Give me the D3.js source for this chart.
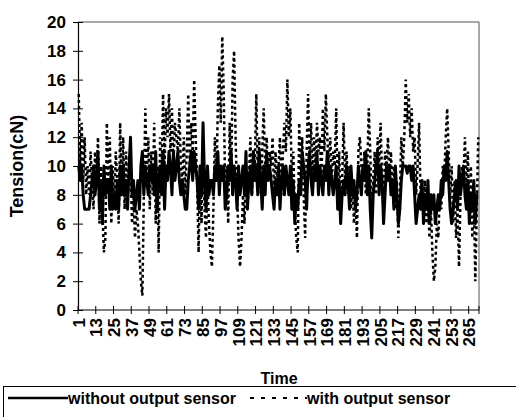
<!DOCTYPE html>
<html><head><meta charset="utf-8">
<script src="https://cdn.jsdelivr.net/npm/d3@7"></script>
<style>
html,body{margin:0;padding:0;background:#fff;}
svg text{font-family:"Liberation Sans",Arial,sans-serif;font-weight:bold;fill:#000;}
</style></head>
<body><svg id="c" width="516" height="417"></svg>
<script>
const seriesNames = ["without output sensor", "with output sensor"];
const withoutSensor = [
10,9,10,8,7,7,7,7,8,9,
10,8,9,11,7,9,6,10,8,9,
9,7,10,7,8,7,9,7,10,8,
10,8,9,7,10,12,8,9,7,8,
9,7,10,11,8,10,9,8,10,9,
10,8,11,7,9,10,8,11,7,10,
9,11,10,8,11,9,10,11,9,8,
9,8,7,7,9,10,11,9,11,10,
9,7,10,8,13,9,7,10,8,9,
9,8,10,9,11,8,10,9,10,7,
8,10,9,11,8,10,9,7,10,8,
9,10,8,11,7,9,10,8,11,9,
10,8,11,9,7,10,8,11,9,10,
9,8,7,9,8,10,7,9,10,8,
10,9,8,10,7,9,6,8,7,9,
8,11,10,9,7,10,11,9,8,10,
9,11,8,10,9,8,10,9,11,8,
10,9,8,9,10,7,9,6,8,9,
8,10,9,7,10,8,9,7,8,10,
9,8,10,9,11,8,10,7,5,8,
9,10,11,8,10,9,6,8,10,9,
10,8,9,7,10,8,6,7,9,10,
10,10,9.5,10,10,9,10,8,6,7,
8,7,9,6,8,7,9,6,8,7,
8,6,7,8,7,9,8,10,9,11,
9,7,6,7,8,9,7,10,8,9,
10,8,7,9,6,8,7,9,6,8,8
];
const withSensor = [
15,10,13,9,12,8,10,8,11,9,
7,11,9,12,6,10,7,4,5,13,
8,12,6,10,7,11,9,6,13,8,
12,7,11,8,9,10,6,8,5,7,
6,4,2,1,8,14,9,12,7,11,
8,13,6,10,4,12,9,15,10,14,
12,15,11,14,10,13,12,11,14,10,
9,12,8,11,15,10,13,11,16,12,
9,4,10,6,12,7,5,9,6,4,
3,7,12,9,14,17,13,19,15,8,
10,6,13,9,16,18,12,8,5,3,
5,8,6,10,7,9,12,8,11,10,
15,9,12,8,11,14,10,12,9,11,
10,12,8,11,9,10,12,8,11,13,
11,16,12,14,9,11,7,5,4,13,
9,12,8,5,11,15,10,13,9,12,
10,13,11,12,9,14,11,15,12,10,
12,9,11,10,14,8,11,7,9,13,
9,11,8,10,7,9,6,8,5,11,
12,10,9,11,8,10,14,11,7,9,
11,8,12,10,13,9,7,11,10,12,
9,11,8,10,7,9,5,8,12,10,
12,16,13,15,12,14,11,12,8,10,
13,8,9,7,9,6,8,5,7,4,
2,3,6,5,8,7,10,9,12,14,
11,8,10,6,9,5,7,3,8,10,
9,12,8,11,6,10,5,8,2,7,12
];
const categories = withoutSensor.map((d, i) => i + 1);
const xTickLabels = [1,13,25,37,49,61,73,85,97,109,121,133,145,157,169,181,193,205,217,229,241,253,265];
const yTicks = [0,2,4,6,8,10,12,14,16,18,20];
const axisTitles = {x: "Time", y: "Tension(cN)"};

const svg = d3.select("#c");
const L = 78, R = 479, T = 22, B = 310;
const x = d3.scaleBand().domain(categories).range([L, R]);
const y = d3.scaleLinear().domain([0, 20]).range([B, T]);
const cx = c => x(c) + x.bandwidth() / 2;

// plot area border (top/right)
svg.append("path").attr("d", `M${L},${T}H${R}V${B}`)
  .attr("fill", "none").attr("stroke", "#555").attr("stroke-width", 1);

// data lines
const line = d3.line().x((d, i) => cx(categories[i])).y(d => y(d));
svg.append("path").datum(withSensor).attr("d", line)
  .attr("fill", "none").attr("stroke", "#000").attr("stroke-width", 2.5)
  .attr("stroke-dasharray", "3,3");
svg.append("path").datum(withoutSensor).attr("d", line)
  .attr("fill", "none").attr("stroke", "#000").attr("stroke-width", 3)
  .attr("stroke-linejoin", "round");

// y axis
const yAxis = svg.append("g").attr("transform", `translate(${L},0)`)
  .call(d3.axisLeft(y).tickValues(yTicks).tickSizeInner(5).tickSizeOuter(0).tickPadding(7));
yAxis.select(".domain").attr("stroke", "#000").attr("stroke-width", 1.2);
yAxis.selectAll(".tick line").attr("x2", 5).attr("x1", -5).attr("stroke", "#000");
yAxis.selectAll(".tick text").attr("font-size", 17).style("font-family", "Liberation Sans, Arial").style("font-weight", "bold");

// x axis labels
const xAxis = svg.append("g").attr("transform", `translate(0,${B})`)
  .call(d3.axisBottom(x).tickValues(xTickLabels).tickSize(0).tickPadding(0));
xAxis.select(".domain").remove();
xAxis.selectAll(".tick text")
  .attr("font-size", 17).style("font-weight", "bold")
  .attr("transform", "translate(0,8) rotate(-90)")
  .attr("text-anchor", "end").attr("dy", "0.35em").attr("x", 0).attr("y", 0);
svg.append("line").attr("x1", L).attr("x2", R).attr("y1", B).attr("y2", B)
  .attr("stroke", "#000").attr("stroke-width", 1.2);
svg.append("g").selectAll("line").data(xTickLabels).join("line")
  .attr("x1", d => x(d)).attr("x2", d => x(d)).attr("y1", B - 4).attr("y2", B + 4)
  .attr("stroke", "#000");
svg.append("line").attr("x1", R).attr("x2", R).attr("y1", B - 4).attr("y2", B + 4).attr("stroke", "#000");

// titles
svg.append("text").attr("x", 279).attr("y", 384).attr("text-anchor", "middle")
  .attr("font-size", 16).text(axisTitles.x);
svg.append("text").attr("transform", "translate(23,166) rotate(-90)").attr("text-anchor", "middle")
  .attr("font-size", 18).text(axisTitles.y);

// legend
svg.append("rect").attr("x", 3.5).attr("y", 386.5).attr("width", 530).attr("height", 50)
  .attr("fill", "none").attr("stroke", "#000").attr("stroke-width", 1);
svg.append("line").attr("x1", 8).attr("x2", 68).attr("y1", 398).attr("y2", 398)
  .attr("stroke", "#000").attr("stroke-width", 2.5);
svg.append("text").attr("x", 68).attr("y", 403.5).attr("font-size", 16).text(seriesNames[0]);
svg.append("line").attr("x1", 250).attr("x2", 307).attr("y1", 398).attr("y2", 398)
  .attr("stroke", "#000").attr("stroke-width", 2).attr("stroke-dasharray", "4,7");
svg.append("text").attr("x", 307).attr("y", 403.5).attr("font-size", 16).text(seriesNames[1]);
</script></body></html>
